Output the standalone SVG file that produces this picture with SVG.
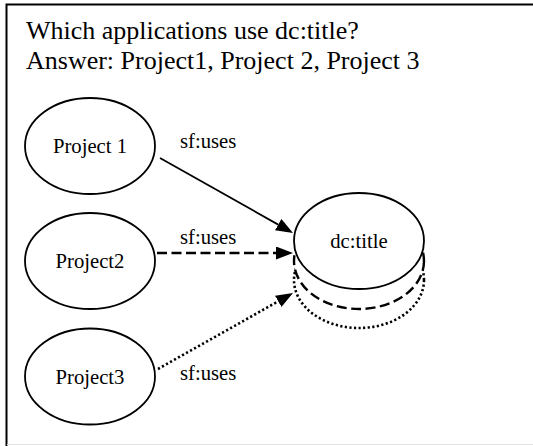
<svg xmlns="http://www.w3.org/2000/svg" width="533" height="446" viewBox="0 0 533 446" font-family="'Liberation Serif', 'Times New Roman', serif">
<defs>
<style>
text{font-family:"Liberation Serif","Times New Roman",serif;fill:#000}
.title{font-size:26px}
.lbl{font-size:20.7px;text-anchor:middle}
.edge{font-size:20.7px}
.node{fill:#fff;stroke:#000;stroke-width:1.8}
.con{fill:none;stroke:#000;stroke-width:1.8}
.dash{stroke-dasharray:10 4.5;stroke-width:2.4}
.dot{stroke-dasharray:2.2 2.4;stroke-width:2.6}
</style>
<marker id="arr" viewBox="0 0 17 13" refX="0" refY="6.5" markerWidth="17" markerHeight="13" markerUnits="userSpaceOnUse" orient="auto">
<path d="M0,0 L17,6.5 L0,13 z" fill="#000"/>
</marker>
</defs>
<rect width="533" height="446" fill="#fff"/>
<path d="M6.5,540 V4.5 H540" fill="none" stroke="#000" stroke-width="2"/>
<line x1="7" y1="444.5" x2="533" y2="444.5" stroke="#e2e2e2" stroke-width="1"/>
<g id="question">
<text class="title" x="26" y="39">Which applications use dc:title?</text>
<text class="title" x="26" y="69">Answer: Project1, Project 2, Project 3</text>
</g>
<g id="connectors">
<line class="con" x1="160" y1="158" x2="278.2" y2="224.6" marker-end="url(#arr)"/>
<line class="con dash" x1="157" y1="253" x2="276" y2="253" marker-end="url(#arr)"/>
<line class="con dot" x1="158" y1="369" x2="278.2" y2="301.3" marker-end="url(#arr)"/>
<text class="edge" x="180" y="148">sf:uses</text>
<text class="edge" x="180" y="244">sf:uses</text>
<text class="edge" x="180" y="380">sf:uses</text>
</g>
<g id="project1">
<ellipse class="node" cx="90" cy="146" rx="65" ry="48"/>
<text class="lbl" x="90" y="153">Project 1</text>
</g>
<g id="project2">
<ellipse class="node" cx="90" cy="261" rx="65" ry="48"/>
<text class="lbl" x="90" y="268">Project2</text>
</g>
<g id="project3">
<ellipse class="node" cx="90" cy="376.5" rx="65" ry="48"/>
<text class="lbl" x="90" y="383.5">Project3</text>
</g>
<g id="dctitle">
<ellipse cx="359" cy="280" rx="65" ry="48" fill="#fff" stroke="#000" stroke-width="2.6" stroke-dasharray="2.2 2.4"/>
<ellipse cx="359" cy="261" rx="65" ry="48" fill="#fff" stroke="#000" stroke-width="2.4" stroke-dasharray="10 4.5"/>
<ellipse class="node" cx="359" cy="241" rx="65" ry="48"/>
<text class="lbl" x="359" y="248">dc:title</text>
</g>
</svg>
